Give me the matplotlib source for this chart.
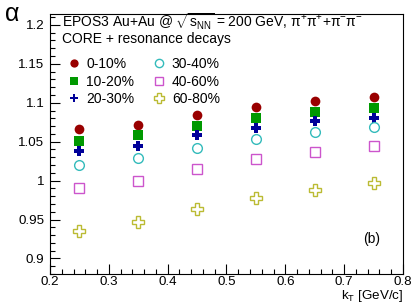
import matplotlib
matplotlib.use("Agg")
import matplotlib.pyplot as plt
from matplotlib.ticker import MultipleLocator, FuncFormatter

kt = [0.25, 0.35, 0.45, 0.55, 0.65, 0.75]

alpha_0_10 = [1.066, 1.071, 1.084, 1.095, 1.102, 1.107]
alpha_10_20 = [1.051, 1.058, 1.070, 1.081, 1.088, 1.093]
alpha_20_30 = [1.038, 1.045, 1.058, 1.068, 1.076, 1.081]
alpha_30_40 = [1.020, 1.029, 1.042, 1.054, 1.062, 1.069]
alpha_40_60 = [0.991, 1.000, 1.015, 1.028, 1.037, 1.045]
alpha_60_80 = [0.935, 0.947, 0.963, 0.978, 0.988, 0.997]

labels = ["0-10%", "10-20%", "20-30%", "30-40%", "40-60%", "60-80%"]

plt.rcParams["font.family"] = ["Liberation Sans", "DejaVu Sans"]
plt.rcParams["mathtext.fontset"] = "custom"
plt.rcParams["mathtext.rm"] = "Liberation Sans"
plt.rcParams["mathtext.it"] = "Liberation Sans"

fig = plt.figure(figsize=(4.15, 3.05), dpi=100)
ax = fig.add_axes([0.1205, 0.1016, 0.8505, 0.8524])

# marker, face, edge, size
styles = [
    ("o", "#990000", "#990000", 7),
    ("s", "#009900", "#009900", 6.5),
    ("P", "#000099", "#000099", 7.5),
    ("o", "none", "#33bbbb", 7),
    ("s", "none", "#cc55cc", 7.5),
    ("P", "none", "#bbbb33", 8),
]
series = [alpha_0_10, alpha_10_20, alpha_20_30, alpha_30_40, alpha_40_60, alpha_60_80]

handles = []
for vals, (m, fc, ec, ms), lab in zip(series, styles, labels):
    h, = ax.plot(kt, vals, linestyle="none", marker=m, markersize=ms,
                 markerfacecolor=fc, markeredgecolor=ec,
                 markeredgewidth=0 if fc != "none" else 1.0, label=lab)
    handles.append(h)

ax.set_xlim(0.2, 0.8)
ax.set_ylim(0.88, 1.214)

ax.xaxis.set_major_locator(MultipleLocator(0.1))
ax.xaxis.set_minor_locator(MultipleLocator(0.02))
ax.yaxis.set_major_locator(MultipleLocator(0.05))
ax.yaxis.set_minor_locator(MultipleLocator(0.01))

fmt = FuncFormatter(lambda v, p: f"{v:g}")
ax.xaxis.set_major_formatter(fmt)
ax.yaxis.set_major_formatter(fmt)

ax.tick_params(which="both", direction="in", top=False, right=False,
               labelsize=9.6, colors="black", width=0.8)
ax.tick_params(which="major", length=7, pad=4)
ax.tick_params(which="minor", length=3.5)
ax.tick_params(axis="x", which="major", pad=1.5)
for s in ax.spines.values():
    s.set_linewidth(0.8)

fig.text(0.012, 0.955, "α", fontsize=18, ha="left", va="center")
fig.text(0.971, 0.02, "k$_\\mathregular{T}$ [GeV/c]", fontsize=9.6,
         ha="right", va="baseline")

ax.text(0.035, 0.95,
        "EPOS3 Au+Au @ $\\sqrt{s_{\\mathregular{NN}}}$ = 200 GeV, "
        "π$^{+}$π$^{+}$+π$^{-}$π$^{-}$",
        transform=ax.transAxes, fontsize=10, ha="left", va="baseline")
ax.text(0.035, 0.887, "CORE + resonance decays",
        transform=ax.transAxes, fontsize=10, ha="left", va="baseline")

leg = ax.legend(handles=handles, ncol=2,
                loc="upper left", bbox_to_anchor=(0.012, 0.882),
                frameon=False, fontsize=10, handlelength=1.0,
                handletextpad=0.4, columnspacing=1.3, labelspacing=0.25,
                markerscale=0.85)

ax.text(0.935, 0.135, "(b)", transform=ax.transAxes, fontsize=10,
        ha="right", va="center")

fig.savefig("out.png", dpi=100)
